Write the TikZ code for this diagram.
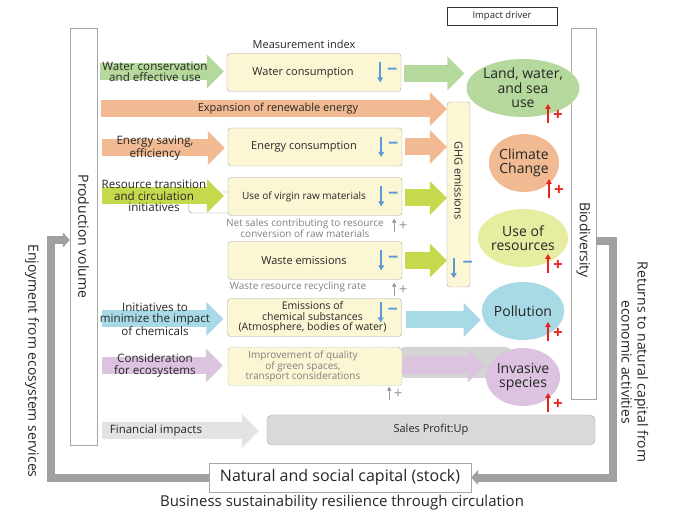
\documentclass[tikz,border=0pt]{standalone}
\usepackage{fontspec}
\setmainfont{Open Sans}
\usetikzlibrary{positioning,calc,shapes.geometric,arrows.meta,backgrounds}

\definecolor{cgreen}{HTML}{B5D99C}
\definecolor{corange}{HTML}{F1BA92}
\definecolor{clime}{HTML}{C6D94D}
\definecolor{cyelgreen}{HTML}{E6ECA0}
\definecolor{cblue}{HTML}{A8DAE6}
\definecolor{cpurple}{HTML}{DCC3E0}
\definecolor{cfin}{HTML}{E3E3E3}
\definecolor{cbox}{HTML}{FBF6D4}
\definecolor{cline}{HTML}{A6A6A6}
\definecolor{cminus}{HTML}{5B9BD5}
\definecolor{cplus}{HTML}{E8231A}
\definecolor{cloop}{HTML}{A0A0A0}

\begin{document}
\begin{tikzpicture}[
    x=1pt, y=-1pt,
    every node/.style={text=black!85, inner sep=1pt},
    fs/.style={font=\fontsize{#1}{#1}\selectfont},
    tallbox/.style={draw=cline, minimum width=27pt, inner sep=0pt},
    mbox/.style={draw=cline, fill=cbox, rounded corners=3pt, minimum width=174pt, minimum height=38pt},
    boxtxt/.style={fs=11, align=center},
    armtxt/.style={font=\fontsize{11.6}{11.2}\selectfont, align=center},
    subtxt/.style={font=\fontsize{10}{10}\selectfont, align=center, text=black!50},
    fatarr/.style={line width=17pt, -{Triangle[length=17pt,width=33pt]}},
    driver/.style={ellipse, minimum width=68pt, minimum height=58pt, inner sep=0pt, font=\fontsize{14}{14.5}\selectfont, align=center},
    loopline/.style={draw=cloop, line width=8pt, -{Triangle[length=7pt,width=15pt]}},
    minusarr/.style={draw=cminus, line width=1.6pt, -{Triangle[length=5pt,width=5.5pt]}},
    minustxt/.style={font=\fontsize{18}{18}\selectfont\bfseries, text=cminus},
    plusarr/.style={draw=cplus, line width=1.6pt, -{Triangle[length=5pt,width=5.5pt]}},
    plustxt/.style={font=\fontsize{17}{17}\selectfont\bfseries, text=cplus},
    gplusarr/.style={draw=black!40, line width=1.4pt, -{Triangle[length=4pt,width=4.5pt]}},
    gplustxt/.style={font=\fontsize{15}{15}\selectfont, text=black!40},
]
\useasboundingbox (0,0) rectangle (673,513);

% frame, capital loop
\node[draw=black!80, minimum width=110pt, minimum height=18pt, fs=9.5] (impact) at (502,16) {Impact driver};
\node[tallbox, minimum height=417pt] (prod) at (83.5,236.5) {};
\node[rotate=-90, fs=14] (prodtxt) at (prod) {Production volume};
\node[tallbox, minimum width=25pt, minimum height=371pt] (biodiv) at (583.5,213.5) {};
\node[rotate=-90, fs=14] (biotxt) at (583.5,240) {Biodiversity};
\node[draw=cline, minimum width=262pt, minimum height=29pt, fs=16] (natural) at (340,477.5) {Natural and social capital (stock)};
\node[fs=15] (resil) at (342,503) {Business sustainability resilience through circulation};
\node[rotate=-90, fs=14] (enjoy) at (32,361) {Enjoyment from ecosystem services};
\node[rotate=-90, font=\fontsize{14}{16}\selectfont, align=center] (returns) at (635,362) {Returns to natural capital from\\economic activities};
\coordinate (lcorner) at (51,240);
\coordinate (rcorner) at (613,241);
\draw[loopline] (natural.west) -| (lcorner) -- (lcorner -| prod.west);
\draw[loopline] (biodiv.east |- rcorner) -- (rcorner) |- (natural.east);

% measurement index
\node[fs=11] (mindex) at (304,44) {Measurement index};
\node[mbox] (mwater) at (314,72.5) {};
\node[mbox] (menergy) at (315,147) {};
\node[mbox] (mvirgin) at (315,196.5) {};
\node[mbox] (mwaste) at (315,260.5) {};
\node[mbox] (mchem) at (314.5,317.5) {};
\node[mbox, draw=black!45, dash pattern=on 1.5pt off 1.5pt] (mgreen) at (315,366.5) {};
\node[boxtxt] (twater) at ($(mwater)+(-11,0)$) {Water consumption};
\node[boxtxt] (tenergy) at ($(menergy)+(-11,0)$) {Energy consumption};
\node[fs=10] (tvirgin) at ($(mvirgin)+(-11,0)$) {Use of virgin raw materials};
\node[boxtxt] (twaste) at ($(mwaste)+(-11,0)$) {Waste emissions};
\node[fs=10.5, align=center] (tchem) at ($(mchem)+(-2,0)$) {Emissions of\\chemical substances\\(Atmosphere, bodies of water)};
\node[fs=10, align=center, text=black!50] (tgreen) at ($(mgreen)+(-12,0)$) {Improvement of quality\\of green spaces,\\transport considerations};
\node[subtxt] (svirgin) at (305,228) {Net sales contributing to resource\\conversion of raw materials};
\node[subtxt] (swaste) at (298,287) {Waste resource recycling rate};

\node[mbox, minimum width=23pt, minimum height=185pt] (ghg) at (458.5,194.5) {};
\node[rotate=-90, boxtxt] (tghg) at ($(ghg)+(0,-14)$) {GHG emissions};

\node[draw=cline, fill=black!15, rounded corners=5pt, minimum width=328pt, minimum height=30pt, fs=11] (sales) at (431,430) {Sales Profit:Up};

% impact drivers
\node[driver, fill=cgreen] (land) at (523,88) {Land, water,\\and sea\\use};
\node[driver, fill=corange] (climate) at (524,163) {Climate\\Change};
\node[driver, fill=cyelgreen] (resources) at (523,238) {Use of\\resources};
\node[driver, fill=cblue] (pollution) at (523,311) {Pollution};
\node[driver, fill=cpurple] (invasive) at (523,377) {Invasive\\species};

% initiatives
\node[armtxt] (wuse) at (155,71.5) {Water conservation\\and effective use};
\node[fs=11] (renew) at (278,109) {Expansion of renewable energy};
\node[armtxt] (esave) at (155,148) {Energy saving,\\efficiency};
\node[armtxt] (restr) at (154,196) {Resource transition\\and circulation\\initiatives};
\node[armtxt] (chemi) at (155,319) {Initiatives to\\minimize the impact\\of chemicals};
\node[armtxt] (ecoc) at (155,365.5) {Consideration\\for ecosystems};
\node[fs=11.5] (finimp) at (156,431) {Financial impacts};

\begin{scope}[on background layer]
\fill[black!17, rounded corners=8pt] (398,347) rectangle (513,378);
\draw[black!45, rounded corners=3pt] ($(mvirgin.west)+(0,-4.5)$) -- ++(-39,0) -- ++(0,21) -- ++(39,0);
\draw[fatarr, cgreen, shorten <=3pt, shorten >=3pt] (prod.east |- wuse) -- (mwater.west |- wuse);
\draw[fatarr, corange, shorten <=4pt] (prod.east |- renew) -- (ghg.west |- renew);
\draw[fatarr, corange, shorten <=5pt, shorten >=3pt] (prod.east |- esave) -- (menergy.west |- esave);
\draw[fatarr, clime, shorten <=5pt, shorten >=4pt] (prod.east |- restr) -- (mvirgin.west |- restr);
\draw[fatarr, cblue, shorten <=5pt, shorten >=4pt] (prod.east |- chemi) -- (mchem.west |- chemi);
\draw[fatarr, cpurple, shorten <=5pt, shorten >=5pt] (prod.east |- ecoc) -- (mgreen.west |- ecoc);
\draw[fatarr, cfin, shorten <=5pt, shorten >=8pt] (prod.east |- finimp) -- (sales.west |- finimp);
\draw[fatarr, cgreen, shorten <=3pt, shorten >=2pt] ($(mwater.east)+(0,1)$) -- ($(mwater.east -| land.west)+(0,1)$);
\draw[fatarr, corange, shorten <=3pt] (menergy.east) -- (ghg.west |- menergy.east);
\draw[fatarr, clime, shorten <=3pt] ($(mvirgin.east)+(0,1.5)$) -- ($(ghg.west |- mvirgin.east)+(0,1.5)$);
\draw[fatarr, clime, shorten <=3pt] (mwaste.east) -- (ghg.west |- mwaste.east);
\draw[fatarr, cblue, shorten <=4pt, shorten >=1pt] ($(mchem.east)+(0,2.5)$) -- ($(mchem.east -| pollution.west)+(0,2.5)$);
\draw[fatarr, cpurple, shorten <=1pt, shorten >=1pt] ($(mgreen.east)+(0,-1)$) -- ($(mgreen.east -| invasive.west)+(0,-1)$);
\end{scope}

% signs
\foreach \b/\dy in {mwater/0, menergy/0, mvirgin/0, mwaste/0, mchem/-5} {
  \draw[minusarr] ($(\b.east)+(-21,{-10+\dy})$) -- ($(\b.east)+(-21,{10+\dy})$);
  \node[minustxt] at ($(\b.east)+(-9,{-1+\dy})$) {−};
}
\draw[minusarr] ($(ghg.south west)+(7,-29)$) -- ($(ghg.south west)+(7,-9)$);
\node[minustxt] at ($(ghg.south west)+(21,-22)$) {−};
\foreach \c/\dy in {land/0, climate/0, resources/0, pollution/-5, invasive/0} {
  \draw[plusarr] ($(\c)+(25,{35+\dy})$) -- ($(\c)+(25,{16+\dy})$);
  \node[plustxt] at ($(\c)+(35,{27+\dy})$) {+};
}
\foreach \b/\dx/\dy in {mvirgin/0/0, mwaste/0/0, mgreen/-5/-2} {
  \draw[gplusarr] ($(\b.south east)+({-8+\dx},{16+\dy})$) -- ($(\b.south east)+({-8+\dx},{3+\dy})$);
  \node[gplustxt] at ($(\b.south east)+({1+\dx},{10+\dy})$) {+};
}
\end{tikzpicture}
\end{document}
